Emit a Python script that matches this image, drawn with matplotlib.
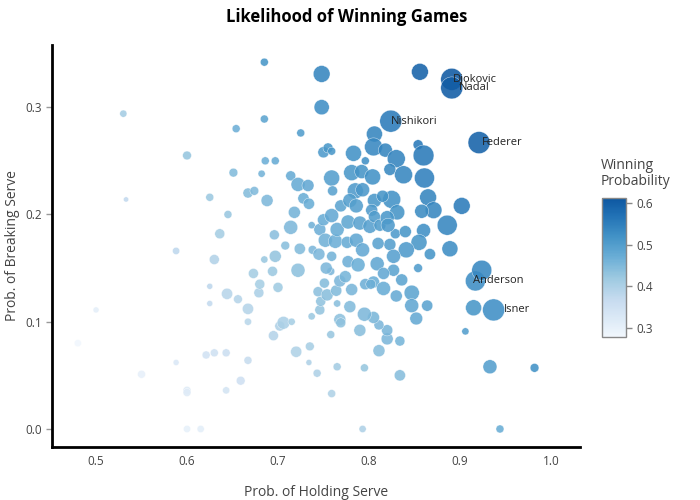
"""
Likelihood of Winning Games - hold vs break scatter
"""
import numpy as np
import matplotlib
matplotlib.use("Agg")
import matplotlib.pyplot as plt
from matplotlib.colors import LinearSegmentedColormap

# ---------- DATA -----------------------------------------------------------
# first six entries are the labelled players
players = ["Djokovic", "Nadal", "Nishikori", "Federer", "Anderson", "Isner"]

hold = [0.891, 0.891, 0.824, 0.921, 0.917, 0.937,
        0.480, 0.500, 0.530, 0.533, 0.550, 0.588, 0.588, 0.600, 0.600, 0.600,
        0.600, 0.615, 0.621, 0.625, 0.625, 0.625, 0.630, 0.630, 0.636, 0.643,
        0.643, 0.644, 0.645, 0.651, 0.654, 0.656, 0.659, 0.667, 0.667, 0.667,
        0.667, 0.674, 0.673, 0.679, 0.680, 0.682, 0.685, 0.685, 0.685, 0.686,
        0.688, 0.694, 0.695, 0.697, 0.696, 0.697, 0.700, 0.702, 0.706, 0.708,
        0.714, 0.714, 0.715, 0.718, 0.720, 0.722, 0.722, 0.725, 0.724, 0.728,
        0.733, 0.734, 0.735, 0.734, 0.737, 0.737, 0.738, 0.743, 0.745, 0.746,
        0.752, 0.746, 0.747, 0.744, 0.754, 0.764, 0.751, 0.768, 0.774, 0.758,
        0.753, 0.759, 0.763, 0.776, 0.765, 0.768, 0.769, 0.758, 0.759, 0.765,
        0.748, 0.748, 0.750, 0.755, 0.759, 0.759, 0.760, 0.769, 0.750, 0.759,
        0.765, 0.783, 0.796, 0.781, 0.792, 0.804, 0.785, 0.793, 0.779, 0.786,
        0.806, 0.803, 0.777, 0.790, 0.801, 0.806, 0.812, 0.806, 0.805, 0.818,
        0.830, 0.823, 0.838, 0.854, 0.860, 0.861, 0.865, 0.871, 0.858, 0.902,
        0.886, 0.860, 0.856, 0.825, 0.815, 0.831, 0.820, 0.829, 0.821, 0.855,
        0.889, 0.867, 0.854, 0.841, 0.823, 0.827, 0.810, 0.809, 0.827, 0.816,
        0.805, 0.816, 0.830, 0.847, 0.847, 0.864, 0.852, 0.924, 0.915, 0.906,
        0.933, 0.982, 0.944, 0.793, 0.834, 0.795, 0.811, 0.834, 0.820, 0.820,
        0.811, 0.805, 0.795, 0.790, 0.796, 0.802, 0.786, 0.793, 0.777, 0.788,
        0.781, 0.779, 0.836, 0.840]

brk = [0.326, 0.318, 0.287, 0.267, 0.138, 0.111,
       0.080, 0.111, 0.294, 0.214, 0.051, 0.166, 0.062, 0.255, 0.036, 0.034,
       0.000, 0.000, 0.069, 0.216, 0.133, 0.117, 0.158, 0.071, 0.182, 0.071,
       0.036, 0.126, 0.200, 0.239, 0.280, 0.121, 0.045, 0.112, 0.100, 0.064,
       0.220, 0.222, 0.145, 0.127, 0.135, 0.238, 0.289, 0.342, 0.158, 0.250,
       0.213, 0.147, 0.087, 0.250, 0.181, 0.161, 0.132, 0.096, 0.099, 0.171,
       0.236, 0.188, 0.100, 0.202, 0.072, 0.228, 0.148, 0.276, 0.168, 0.215,
       0.227, 0.210, 0.077, 0.062, 0.190, 0.105, 0.167, 0.052, 0.163, 0.186,
       0.176, 0.111, 0.119, 0.128, 0.125, 0.129, 0.136, 0.138, 0.142, 0.147,
       0.150, 0.161, 0.175, 0.174, 0.117, 0.102, 0.099, 0.088, 0.033, 0.058,
       0.331, 0.300, 0.258, 0.262, 0.259, 0.234, 0.222, 0.208, 0.195, 0.199,
       0.186, 0.257, 0.250, 0.239, 0.240, 0.235, 0.222, 0.223, 0.213, 0.208,
       0.213, 0.204, 0.193, 0.192, 0.189, 0.198, 0.190, 0.275, 0.263, 0.260,
       0.252, 0.242, 0.237, 0.265, 0.255, 0.234, 0.216, 0.204, 0.203, 0.208,
       0.190, 0.185, 0.333, 0.214, 0.217, 0.202, 0.197, 0.182, 0.190, 0.174,
       0.168, 0.163, 0.150, 0.167, 0.172, 0.161, 0.173, 0.154, 0.148, 0.145,
       0.137, 0.131, 0.124, 0.127, 0.115, 0.115, 0.103, 0.148, 0.113, 0.091,
       0.058, 0.057, 0.000, 0.000, 0.050, 0.057, 0.073, 0.082, 0.084, 0.092,
       0.097, 0.104, 0.107, 0.092, 0.135, 0.135, 0.176, 0.167, 0.156, 0.153,
       0.130, 0.114, 0.139, 0.184]

win_prob = [0.608, 0.604, 0.555, 0.594, 0.527, 0.524,
            0.280, 0.306, 0.412, 0.374, 0.301, 0.377, 0.325, 0.428, 0.318, 0.317,
            0.300, 0.308, 0.345, 0.421, 0.379, 0.371, 0.394, 0.351, 0.409, 0.357,
            0.340, 0.385, 0.423, 0.445, 0.467, 0.389, 0.352, 0.390, 0.384, 0.366,
            0.444, 0.448, 0.409, 0.403, 0.408, 0.460, 0.487, 0.514, 0.422, 0.468,
            0.451, 0.421, 0.391, 0.474, 0.439, 0.429, 0.416, 0.399, 0.403, 0.440,
            0.475, 0.451, 0.408, 0.460, 0.396, 0.475, 0.435, 0.501, 0.446, 0.472,
            0.480, 0.472, 0.406, 0.398, 0.464, 0.421, 0.453, 0.398, 0.454, 0.466,
            0.464, 0.429, 0.433, 0.436, 0.440, 0.447, 0.444, 0.453, 0.458, 0.453,
            0.452, 0.460, 0.469, 0.475, 0.441, 0.435, 0.434, 0.423, 0.396, 0.412,
            0.540, 0.524, 0.504, 0.509, 0.509, 0.497, 0.491, 0.489, 0.473, 0.479,
            0.475, 0.520, 0.523, 0.510, 0.516, 0.520, 0.504, 0.508, 0.496, 0.497,
            0.509, 0.504, 0.485, 0.491, 0.495, 0.502, 0.501, 0.540, 0.534, 0.539,
            0.541, 0.533, 0.537, 0.559, 0.557, 0.547, 0.540, 0.537, 0.530, 0.555,
            0.538, 0.522, 0.594, 0.519, 0.516, 0.516, 0.508, 0.505, 0.505, 0.514,
            0.528, 0.515, 0.502, 0.504, 0.497, 0.494, 0.491, 0.481, 0.487, 0.480,
            0.471, 0.473, 0.477, 0.487, 0.481, 0.489, 0.478, 0.536, 0.514, 0.498,
            0.496, 0.520, 0.472, 0.397, 0.442, 0.426, 0.442, 0.458, 0.452, 0.456,
            0.454, 0.455, 0.451, 0.441, 0.466, 0.469, 0.481, 0.480, 0.467, 0.471,
            0.456, 0.447, 0.488, 0.512]

matches = [55, 55, 55, 55, 50, 55,
           18, 15, 18, 13, 20, 18, 15, 22, 20, 20,
           18, 18, 20, 20, 15, 15, 25, 20, 25, 20,
           18, 28, 20, 22, 20, 22, 22, 28, 18, 20,
           25, 22, 25, 25, 25, 18, 20, 20, 18, 20,
           30, 25, 25, 20, 25, 30, 25, 25, 32, 22,
           25, 35, 18, 30, 28, 35, 35, 20, 28, 28,
           30, 28, 22, 15, 18, 18, 22, 20, 30, 30,
           35, 25, 25, 25, 30, 28, 25, 30, 30, 20,
           30, 25, 35, 30, 18, 30, 25, 20, 20, 20,
           42, 38, 28, 25, 20, 40, 25, 30, 30, 35,
           35, 40, 20, 40, 35, 40, 40, 35, 35, 35,
           35, 30, 35, 35, 35, 30, 30, 40, 45, 35,
           45, 30, 45, 25, 52, 50, 42, 42, 35, 42,
           50, 35, 42, 45, 30, 38, 35, 25, 35, 40,
           40, 28, 22, 40, 30, 35, 30, 35, 30, 30,
           30, 35, 30, 38, 35, 28, 32, 50, 40, 18,
           35, 22, 20, 18, 28, 20, 30, 25, 30, 28,
           25, 30, 35, 30, 28, 25, 35, 35, 30, 35,
           30, 30, 30, 30]

# ---------------------------------------------------------------------------

FONT = "Open Sans"
plt.rcParams["font.family"] = [FONT, "DejaVu Sans"]

blues = plt.get_cmap("Blues")
cmap = LinearSegmentedColormap.from_list(
    "blues_cut", blues(np.linspace(0.03, 0.85, 256)))

fig = plt.figure(figsize=(7, 5), dpi=100)
ax = fig.add_axes([0.0743, 0.106, 0.7543, 0.804])

m = np.array(matches, dtype=float)
sizes = (0.288 * m) ** 2

sc = ax.scatter(hold, brk, s=sizes, c=win_prob, cmap=cmap,
                vmin=0.278, vmax=0.612, alpha=0.88, linewidths=0.3,
                edgecolors="white", zorder=2)

for i, name in enumerate(players):
    ax.annotate(name, (hold[i], brk[i]), xytext=(16.5, 0),
                textcoords="offset points", ha="center", va="center",
                fontsize=8, color="#222222", zorder=3)

ax.set_xlim(0.4516, 1.032)
ax.set_ylim(-0.0168, 0.358)
ax.set_xticks([0.5, 0.6, 0.7, 0.8, 0.9, 1.0])
ax.set_xticklabels(["0.5", "0.6", "0.7", "0.8", "0.9", "1.0"])
ax.set_yticks([0.0, 0.1, 0.2, 0.3])
ax.set_yticklabels(["0.0", "0.1", "0.2", "0.3"])
ax.tick_params(axis="y", length=4, width=1, color="#999999",
               labelsize=8.5, labelcolor="#444444", pad=3)
ax.tick_params(axis="x", length=0, labelsize=8.5, labelcolor="#444444",
               pad=6)

for side in ["top", "right"]:
    ax.spines[side].set_visible(False)
for side in ["left", "bottom"]:
    ax.spines[side].set_linewidth(2)
    ax.spines[side].set_color("black")

ax.set_xlabel("Prob. of Holding Serve", fontsize=10, color="#444444",
              labelpad=12)
ax.set_ylabel("Prob. of Breaking Serve", fontsize=10, color="#444444",
              labelpad=4)

fig.suptitle("Likelihood of Winning Games", x=0.495, y=0.985,
             fontsize=12, fontweight="bold", color="black")

cax = fig.add_axes([0.86, 0.326, 0.034, 0.278])
cb = fig.colorbar(sc, cax=cax, ticks=[0.3, 0.4, 0.5, 0.6])
cb.solids.set_alpha(1)
cb.outline.set_edgecolor("#888888")
cb.outline.set_linewidth(1)
cb.ax.tick_params(length=4, width=1, color="#888888", labelsize=8.5,
                  labelcolor="#444444")
cb.ax.set_yticklabels(["0.3", "0.4", "0.5", "0.6"])
fig.text(0.858, 0.622, "Winning\nProbability", fontsize=10, color="#444444",
         ha="left", va="bottom", linespacing=1.1)

fig.savefig("out.png", dpi=100)
